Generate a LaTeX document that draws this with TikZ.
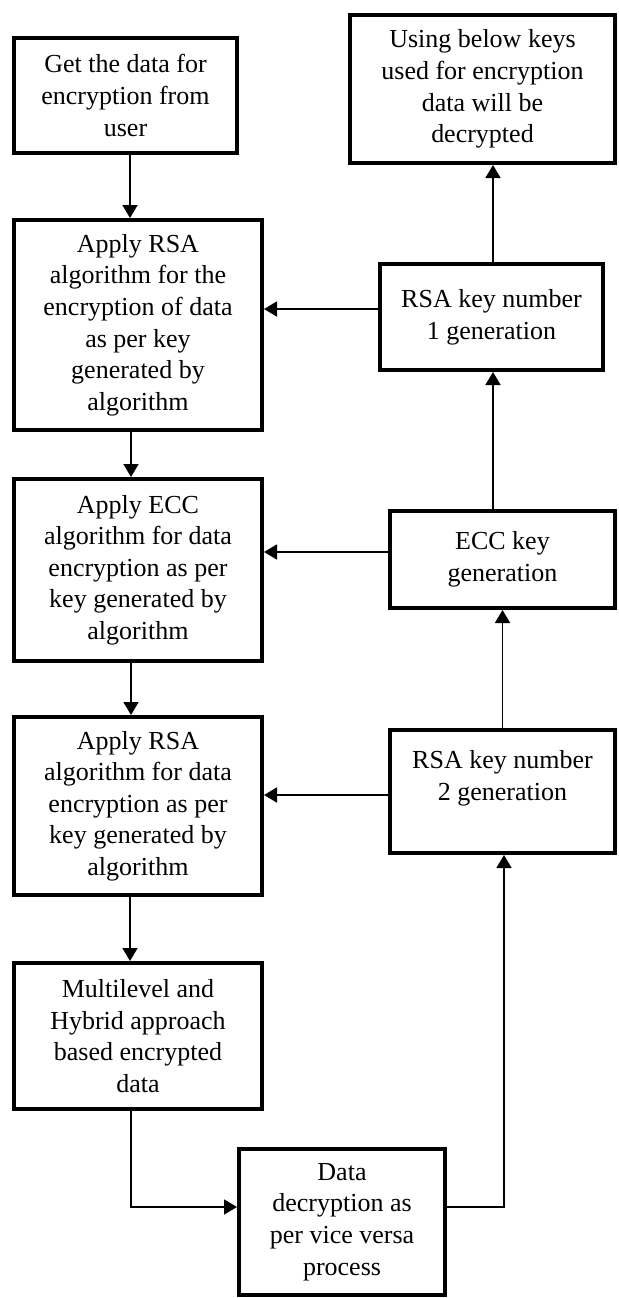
\documentclass[tikz,border=0pt]{standalone}
\usepackage{fontspec}
\setmainfont{Liberation Serif}
\usetikzlibrary{arrows.meta}

\tikzset{
  stepbox/.style={draw, line width=2pt, align=center, inner sep=2pt,
    font=\fontsize{13}{15.8}\selectfont},
  arr/.style={line width=0.8pt, -{Triangle[length=6.5pt,width=7.5pt]}},
  link/.style={line width=0.8pt}
}

\begin{document}
\begin{tikzpicture}[x=0.5pt, y=-0.5pt]
            \useasboundingbox (0,0) rectangle (618,1298);

            % encryption steps (left column)
            \node[stepbox, minimum width=111.5pt, minimum height=57.5pt] (get) at (125.5,95.5)
                {Get the data for\\encryption from\\user};
            \node[stepbox, minimum width=124pt, minimum height=105pt] (rsaone) at (138,325)
                {Apply RSA\\algorithm for the\\encryption of data\\as per key\\generated by\\algorithm};
            \node[stepbox, minimum width=124pt, minimum height=91pt] (ecc) at (138,570)
                {Apply ECC\\algorithm for data\\encryption as per\\key generated by\\algorithm};
            \node[stepbox, minimum width=124pt, minimum height=89pt] (rsatwo) at (138,806)
                {Apply RSA\\algorithm for data\\encryption as per\\key generated by\\algorithm};
            \node[stepbox, minimum width=124pt, minimum height=73pt] (hybrid) at (138,1036)
                {Multilevel and\\Hybrid approach\\based encrypted\\data};
            \node[stepbox, minimum width=103pt, minimum height=73pt] (decrypt) at (342,1222)
                {Data\\decryption as\\per vice versa\\process};

            % key generation (right column)
            \node[stepbox, minimum width=132.5pt, minimum height=74pt] (using) at (482.5,89)
                {Using below keys\\used for encryption\\data will be\\decrypted};
            \node[stepbox, minimum width=111.5pt, minimum height=53pt] (keyrsaone) at (491.5,317)
                {RSA key number\\1 generation};
            \node[stepbox, minimum width=112.5pt, minimum height=48.5pt] (keyecc) at (502.5,559.5)
                {ECC key\\generation};
            \node[stepbox, minimum width=112.5pt, minimum height=61.5pt] (keyrsatwo) at (502.5,791.5)
                {RSA key number\\2 generation\\\null};

            % flow down the left
            \draw[arr] ([xshift=2.25pt]get.south) -- ([xshift=-4pt]rsaone.north);
            \draw[arr] ([xshift=-3.5pt]rsaone.south) -- ([xshift=-3.5pt]ecc.north);
            \draw[arr] ([xshift=-3.5pt]ecc.south) -- ([xshift=-3.5pt]rsatwo.north);
            \draw[arr] ([xshift=-4pt]rsatwo.south) -- ([xshift=-4pt]hybrid.north);
            \draw[arr] ([xshift=-3.5pt]hybrid.south) |- ([yshift=7.5pt]decrypt.west);

            % back up the right
            \draw[arr] ([yshift=7.5pt]decrypt.east) -| ([xshift=0.75pt]keyrsatwo.south);
            \draw[arr] (keyrsatwo.north) -- (keyecc.south);
            \draw[arr] ([xshift=-4.75pt]keyecc.north) -- ([xshift=0.75pt]keyrsaone.south);
            \draw[arr] ([xshift=0.75pt]keyrsaone.north) -- ([xshift=5.25pt]using.south);

            % keys handed to the steps
            \draw[arr] ([yshift=4pt]keyrsaone.west) -- ([yshift=4pt]keyrsaone.west -| rsaone.east);
            \draw[arr] ([yshift=3.75pt]keyecc.west) -- ([yshift=3.75pt]keyecc.west -| ecc.east);
            \draw[arr] ([yshift=-1.75pt]keyrsatwo.west) -- ([yshift=-1.75pt]keyrsatwo.west -| rsatwo.east);
        \end{tikzpicture}
\end{document}
